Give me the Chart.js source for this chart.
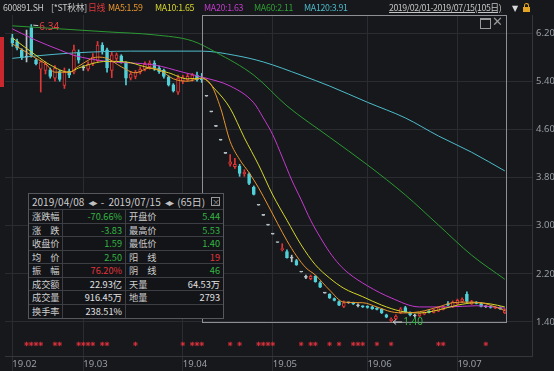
<!DOCTYPE html>
<html>
<head>
<meta charset="utf-8">
<script src="https://cdn.jsdelivr.net/npm/chart.js@4.4.1/dist/chart.umd.min.js"></script>
<style>
body { margin: 0; background: #17181c; }
#wrap { position: relative; width: 554px; height: 371px; overflow: hidden; background: #17181c;
        font-family: "Noto Sans CJK SC", "Noto Sans", sans-serif; }
#chart { position: absolute; left: 0; top: 0; }
.h { position: absolute; top: 2px; font-size: 8.8px; line-height: 12px; white-space: nowrap; letter-spacing: -0.3px; }
#redtab { position: absolute; left: 0; top: 37px; width: 4px; height: 50px; background: #c9282e; }
#stats { position: absolute; left: 28px; top: 193px; width: 194px; height: 124px; background: #131418;
         border: 1px solid #55575d; font-size: 9.2px; color: #cdcdcd; }
#stats .hd { height: 15px; line-height: 15px; padding-left: 3px; border-bottom: 1px solid #3d3f45; position: relative;
             font-size: 10px; word-spacing: 2px; }
#stats .hd .arr { font-size: 10px; color: #c0c0c0; font-family: "DejaVu Sans"; letter-spacing: -1px; }
#stats .xb { position: absolute; right: 3px; top: 3px; width: 7px; height: 7px; border: 1px solid #9a9a9a;
             font-size: 8px; line-height: 7px; text-align: center; color: #9a9a9a; word-spacing: 0; }
.row { display: flex; height: 13.5px; line-height: 13px; border-bottom: 1px solid #3d3f45; box-sizing: border-box; }
.row:last-child { border-bottom: none; }
.c1, .c3 { padding-left: 3px; box-sizing: border-box; }
.c1 { width: 34px; border-right: 1px solid #3d3f45; }
.c2 { width: 63px; text-align: right; padding-right: 3px; box-sizing: border-box; border-right: 1px solid #3d3f45; }
.c3 { width: 33px; }
.c4 { width: 64px; text-align: right; padding-right: 3px; box-sizing: border-box; }
.g { color: #33b443; } .r { color: #e0353a; } .w { color: #e2e2e2; }
#maxbtn { position: absolute; left: 480px; top: 18px; width: 9px; height: 8px; border: 1px solid #9a9a9a; border-top-width: 2px; }
#closebtn { position: absolute; left: 492px; top: 14px; font-size: 13px; color: #9a9a9a; font-family: "DejaVu Sans"; }
#lock1 { position: absolute; left: 523px; top: 7px; width: 7px; height: 5px; background: #e3a323; }
#lock2 { position: absolute; left: 524px; top: 3px; width: 3px; height: 4px; border: 1px solid #e3a323; border-bottom: none; border-radius: 3px 3px 0 0; }
</style>
</head>
<body>
<div id="wrap">
  <canvas id="chart" width="554" height="371"></canvas>
  <div id="redtab"></div>
  <span class="h" style="left:3px;color:#c8c8c8">600891.SH</span>
  <span class="h" style="left:51px;color:#c8c8c8">[*ST秋林]</span>
  <span class="h" style="left:88px;color:#e0383a">日线</span>
  <span class="h" style="left:108px;color:#e8962c">MA5:1.59</span>
  <span class="h" style="left:155px;color:#d6d62a">MA10:1.65</span>
  <span class="h" style="left:204px;color:#c23bcc">MA20:1.63</span>
  <span class="h" style="left:254px;color:#2f9f35">MA60:2.11</span>
  <span class="h" style="left:304px;color:#4bb8c6">MA120:3.91</span>
  <span class="h" style="left:389px;color:#c4c4c4;text-decoration:underline;letter-spacing:-0.45px">2019/02/01-2019/07/15(105日)</span>
  <span class="h" style="left:512px;top:3px;color:#d8d8d8;font-size:8px;font-family:'DejaVu Sans'">▼</span>
  <div id="lock2"></div><div id="lock1"></div>
  <div id="maxbtn"></div>
  <div id="closebtn">✕</div>
  <div id="stats">
    <div class="hd">2019/04/08 <span class="arr">◂▸</span> - 2019/07/15 <span class="arr">◂▸</span> (65日)<div class="xb">×</div></div>
    <div id="rows"></div>
  </div>
</div>
<script>
// month ticks on the time axis (index of first trading day of each month)
const months = ['19.02', '19.03', '19.04', '19.05', '19.06', '19.07'];
const monthStart = [0, 15, 36, 55, 75, 94];
const yTicks = [1.40, 2.20, 3.00, 3.80, 4.60, 5.40, 6.20];

// daily candles 2019/02/01 - 2019/07/15 (105 trading days)
const opens = [
  6.12, 6.06, 5.92, 5.80, 6.29, 5.75, 5.60, 5.58, 5.59, 5.45, 5.56, 5.33, 5.57, 5.55, 5.88,
  5.62, 5.60, 5.70, 5.74, 6.00, 5.92, 5.58, 5.78, 5.82, 5.71, 5.45, 5.48, 5.55, 5.60, 5.64,
  5.70, 5.62, 5.58, 5.47, 5.34, 5.22,
  5.40, 5.42, 5.44, 5.50, 5.44, 5.15, 4.89, 4.65, 4.42, 4.20, 4.02, 3.98, 3.99, 3.86, 3.86,
  3.64, 3.34, 3.17, 3.01,
  2.86, 2.72, 2.60, 2.57, 2.46, 2.42, 2.23, 2.14, 2.12, 2.16, 2.05, 1.88, 1.86, 1.79, 1.74,
  1.66, 1.72, 1.72, 1.67, 1.66,
  1.66, 1.65, 1.63, 1.61, 1.52, 1.42, 1.45, 1.55, 1.64, 1.56, 1.50, 1.50, 1.53, 1.58, 1.56,
  1.58, 1.61, 1.70, 1.65,
  1.70, 1.74, 1.86, 1.70, 1.73, 1.70, 1.65, 1.66, 1.63, 1.64, 1.55
];
const highs = [
  6.18, 6.10, 5.94, 6.25, 6.34, 5.77, 5.74, 5.72, 5.62, 5.66, 5.58, 5.62, 5.60, 6.00, 5.92,
  5.66, 5.72, 5.86, 6.06, 6.04, 5.95, 5.88, 5.87, 5.84, 5.72, 5.56, 5.58, 5.64, 5.72, 5.74,
  5.74, 5.65, 5.60, 5.49, 5.36, 5.50,
  5.50, 5.52, 5.53, 5.55, 5.53, 5.15, 4.89, 4.65, 4.42, 4.20, 4.18, 4.12, 4.02, 3.93, 3.88,
  3.66, 3.34, 3.17, 3.01,
  2.86, 2.72, 2.70, 2.60, 2.51, 2.44, 2.23, 2.18, 2.18, 2.17, 2.07, 1.88, 1.87, 1.80, 1.75,
  1.75, 1.73, 1.73, 1.70, 1.67,
  1.67, 1.66, 1.64, 1.62, 1.53, 1.47, 1.52, 1.64, 1.66, 1.57, 1.53, 1.55, 1.57, 1.59, 1.61,
  1.65, 1.66, 1.74, 1.75,
  1.78, 1.80, 1.90, 1.76, 1.74, 1.72, 1.67, 1.67, 1.66, 1.65, 1.62
];
const lows = [
  5.98, 5.92, 5.76, 5.72, 5.80, 5.67, 5.22, 5.52, 5.45, 5.40, 5.40, 5.28, 5.46, 5.52, 5.70,
  5.58, 5.57, 5.66, 5.72, 5.85, 5.55, 5.46, 5.74, 5.70, 5.34, 5.42, 5.44, 5.52, 5.57, 5.60,
  5.58, 5.53, 5.45, 5.32, 5.22, 5.18,
  5.36, 5.40, 5.40, 5.40, 5.38, 5.15, 4.89, 4.65, 4.42, 4.20, 3.99, 3.95, 3.82, 3.82, 3.68,
  3.51, 3.34, 3.17, 3.01,
  2.86, 2.72, 2.58, 2.46, 2.40, 2.34, 2.23, 2.12, 2.10, 2.06, 1.97, 1.88, 1.79, 1.75, 1.67,
  1.64, 1.71, 1.69, 1.65, 1.64,
  1.63, 1.61, 1.60, 1.54, 1.47, 1.40, 1.44, 1.54, 1.56, 1.50, 1.48, 1.49, 1.52, 1.55, 1.55,
  1.57, 1.60, 1.67, 1.64,
  1.69, 1.72, 1.72, 1.69, 1.70, 1.65, 1.64, 1.63, 1.62, 1.61, 1.54
];
const closes = [
  6.03, 5.95, 5.79, 5.80, 5.83, 5.69, 5.72, 5.68, 5.48, 5.62, 5.43, 5.55, 5.50, 5.92, 5.75,
  5.62, 5.68, 5.80, 6.00, 5.90, 5.62, 5.84, 5.84, 5.72, 5.45, 5.52, 5.55, 5.60, 5.68, 5.70,
  5.62, 5.56, 5.48, 5.34, 5.24, 5.45,
  5.46, 5.48, 5.50, 5.42, 5.42, 5.15, 4.89, 4.65, 4.42, 4.20, 4.06, 4.02, 3.87, 3.89, 3.70,
  3.52, 3.34, 3.17, 3.01,
  2.86, 2.72, 2.62, 2.47, 2.46, 2.35, 2.23, 2.14, 2.16, 2.07, 1.98, 1.88, 1.80, 1.76, 1.68,
  1.72, 1.72, 1.70, 1.67, 1.65,
  1.64, 1.62, 1.61, 1.55, 1.48, 1.45, 1.50, 1.62, 1.57, 1.52, 1.50, 1.54, 1.56, 1.56, 1.60,
  1.64, 1.65, 1.68, 1.73,
  1.76, 1.78, 1.74, 1.74, 1.71, 1.66, 1.65, 1.64, 1.64, 1.62, 1.59
];

// moving averages as [day index, value]
const ma5 = [[0, 6.02], [3, 5.88], [5, 5.78], [7, 5.69], [9, 5.55], [12, 5.55], [14, 5.65], [18, 5.80],
  [20, 5.78], [23, 5.64], [26, 5.54], [29, 5.62], [31, 5.59], [34, 5.44], [37, 5.40], [40, 5.45],
  [42, 5.34], [44, 4.95], [46, 4.40], [48, 4.10], [50, 3.88], [52, 3.63], [54, 3.34], [56, 3.04],
  [58, 2.75], [60, 2.50], [62, 2.30], [64, 2.18], [67, 1.93], [70, 1.73], [74, 1.72], [77, 1.65],
  [80, 1.57], [83, 1.55], [86, 1.57], [90, 1.65], [93, 1.72], [96, 1.73], [99, 1.72], [102, 1.65], [104, 1.59]];
const ma10 = [[0, 6.12], [5, 5.83], [8, 5.67], [12, 5.55], [14, 5.62], [20, 5.73], [24, 5.72], [28, 5.64],
  [33, 5.54], [37, 5.44], [40, 5.45], [43, 5.25], [46, 4.95], [49, 4.46], [52, 4.01], [55, 3.51],
  [58, 3.09], [61, 2.68], [64, 2.35], [67, 2.13], [70, 1.96], [74, 1.82], [78, 1.68], [82, 1.58],
  [86, 1.55], [90, 1.60], [94, 1.68], [98, 1.72], [101, 1.70], [104, 1.65]];
const ma20 = [[0, 6.27], [5, 6.08], [10, 5.92], [13, 5.83], [20, 5.73], [30, 5.67], [36, 5.55], [40, 5.47],
  [46, 5.32], [51, 5.04], [53, 4.79], [55, 4.51], [57, 4.14], [59, 3.76], [61, 3.43], [63, 3.09],
  [65, 2.81], [67, 2.56], [69, 2.36], [71, 2.21], [75, 2.00], [80, 1.80], [86, 1.65], [92, 1.65],
  [98, 1.67], [104, 1.63]];
const ma60 = [[0, 6.32], [10, 6.27], [20, 6.22], [30, 6.17], [38, 6.07], [43, 5.88], [51, 5.50], [58, 4.99],
  [67, 4.47], [75, 4.01], [83, 3.51], [90, 3.01], [97, 2.51], [104, 2.11]];
const ma120 = [[0, 5.78], [5, 5.82], [13, 5.87], [25, 5.90], [40, 5.90], [47, 5.83], [53, 5.72], [61, 5.50],
  [67, 5.32], [75, 5.05], [83, 4.79], [90, 4.49], [97, 4.22], [104, 3.91]];

// news markers row under the candles
const starDays = [3, 4, 5, 6, 9, 10, 14, 15, 16, 17, 19, 20, 26, 36, 38, 39, 40, 46, 48, 52, 53, 54, 55,
  61, 63, 64, 67, 69, 72, 73, 74, 77, 80, 90, 91, 100];
const starLevel = 1.035;

// interval statistics 2019/04/08 - 2019/07/15
const rangeFrom = 40, rangeTo = 104;
const periodHigh = {day: 4, value: 6.34};
const periodLow = {day: 80, value: 1.40};
const statRows = [
  ['涨跌幅', '-70.66%', 'g', '开盘价', '5.44', 'g'],
  ['涨　跌', '-3.83', 'g', '最高价', '5.53', 'g'],
  ['收盘价', '1.59', 'g', '最低价', '1.40', 'g'],
  ['均　价', '2.50', 'g', '阳　线', '19', 'r'],
  ['振　幅', '76.20%', 'r', '阴　线', '46', 'g'],
  ['成交额', '22.93亿', 'w', '天量', '64.53万', 'w'],
  ['成交量', '916.45万', 'w', '地量', '2793', 'w'],
  ['换手率', '238.51%', 'w', '', '', 'w']
];

const bg = '#17181c';
const upColor = '#e23636';
const downColor = '#52d0d8';
const flatColor = '#b9c6ca';
const gridColor = '#2a2c32';

document.getElementById('rows').innerHTML = statRows.map(r =>
  '<div class="row"><div class="c1">' + r[0] + '</div><div class="c2 ' + r[2] + '">' + r[1] +
  '</div><div class="c3">' + r[3] + '</div><div class="c4 ' + r[5] + '">' + r[4] + '</div></div>').join('');

function candleColor(i) {
  if (closes[i] > opens[i]) return upColor;
  if (closes[i] < opens[i]) return downColor;
  return flatColor;
}

const days = opens.map((o, i) => i);
const wickData = days.map(i => ({x: i, y: [lows[i], highs[i]]}));
const bodyData = days.map(i => ({x: i, y: [opens[i], closes[i]]}));
const toPts = arr => arr.map(p => ({x: p[0], y: p[1]}));

function maLine(label, arr, color) {
  return {
    type: 'line', label: label, data: toPts(arr), borderColor: color, borderWidth: 1,
    pointRadius: 0, cubicInterpolationMode: 'monotone', fill: false, order: 0
  };
}

const marks = {
  id: 'marks',
  afterDatasetsDraw(chart) {
    const {ctx, chartArea, scales: {x, y}} = chart;
    ctx.save();
    // selection frame
    const l = Math.round(x.getPixelForValue(rangeFrom)) + 0.5;
    const r = Math.round(x.getPixelForValue(rangeTo + 0.3)) + 0.5;
    const t = chartArea.top + 0.5;
    const b = Math.round(y.getPixelForValue(periodLow.value)) + 0.5;
    ctx.strokeStyle = '#8d8f95';
    ctx.lineWidth = 1;
    ctx.strokeRect(l, t, r - l, b - t);

    ctx.font = '10px "Noto Sans", sans-serif';
    ctx.textBaseline = 'middle';
    ctx.textAlign = 'left';
    // highest price
    let px = x.getPixelForValue(periodHigh.day);
    let py = y.getPixelForValue(periodHigh.value);
    ctx.strokeStyle = '#d0d0d0';
    ctx.beginPath();
    ctx.moveTo(px + 2, py + 0.5);
    ctx.lineTo(px + 7, py + 1);
    ctx.stroke();
    ctx.fillStyle = '#e04040';
    ctx.fillText(periodHigh.value.toFixed(2), px + 8, py + 3);
    // lowest price
    px = x.getPixelForValue(periodLow.day);
    py = y.getPixelForValue(periodLow.value);
    ctx.strokeStyle = '#d0d0d0';
    ctx.beginPath();
    ctx.moveTo(px + 2, py);
    ctx.lineTo(px + 11, py);
    ctx.moveTo(px + 5, py - 2.5);
    ctx.lineTo(px + 2, py);
    ctx.lineTo(px + 5, py + 2.5);
    ctx.stroke();
    ctx.fillStyle = '#3bb34a';
    ctx.fillText(periodLow.value.toFixed(2), px + 12, py);
    ctx.restore();
  }
};

new Chart(document.getElementById('chart'), {
  type: 'bar',
  data: {
    datasets: [
      maLine('MA5', ma5, '#e8962c'),
      maLine('MA10', ma10, '#d6d62a'),
      maLine('MA20', ma20, '#c53acf'),
      maLine('MA60', ma60, '#2c9a32'),
      maLine('MA120', ma120, '#4dbdcb'),
      {
        label: 'body', data: bodyData, grouped: false, barThickness: 3, minBarLength: 1,
        backgroundColor: days.map(i => closes[i] > opens[i] ? bg : candleColor(i)),
        borderColor: days.map(candleColor), borderWidth: 1, borderSkipped: false, order: 1
      },
      {
        label: 'wick', data: wickData, grouped: false, barThickness: 1,
        backgroundColor: days.map(candleColor), borderWidth: 0, order: 2
      },
      {
        type: 'scatter', label: 'marker', data: starDays.map(d => ({x: d, y: starLevel})),
        pointStyle: 'star', pointRadius: 2.2, borderColor: '#d7313a', borderWidth: 1, order: 3
      }
    ]
  },
  options: {
    responsive: false,
    animation: false,
    layout: {padding: {top: 15}},
    plugins: {legend: {display: false}, tooltip: {enabled: false}},
    scales: {
      x: {
        type: 'linear', min: -1.55, max: 109.75, offset: false,
        afterBuildTicks: s => { s.ticks = monthStart.map(v => ({value: v})); },
        afterFit: s => { s.height = 15; },
        ticks: {
          callback: v => months[monthStart.indexOf(v)], align: 'start', padding: -12,
          color: '#9a9ea6', font: {size: 9.5, family: 'Noto Sans'}, maxRotation: 0, autoSkip: false
        },
        grid: {color: gridColor, offset: false, drawTicks: true, tickLength: 15},
        border: {color: '#34363c'}
      },
      y: {
        position: 'right', min: 0.835, max: 6.5,
        afterBuildTicks: s => { s.ticks = yTicks.map(v => ({value: v})); },
        afterFit: s => { s.width = 22; },
        ticks: {
          callback: v => v.toFixed(2), padding: 4,
          color: '#9a9ea6', font: {size: 9.5, family: 'Noto Sans'}
        },
        grid: {color: gridColor, drawTicks: false},
        border: {color: '#34363c'}
      }
    }
  },
  plugins: [marks]
});
</script>
</body>
</html>
